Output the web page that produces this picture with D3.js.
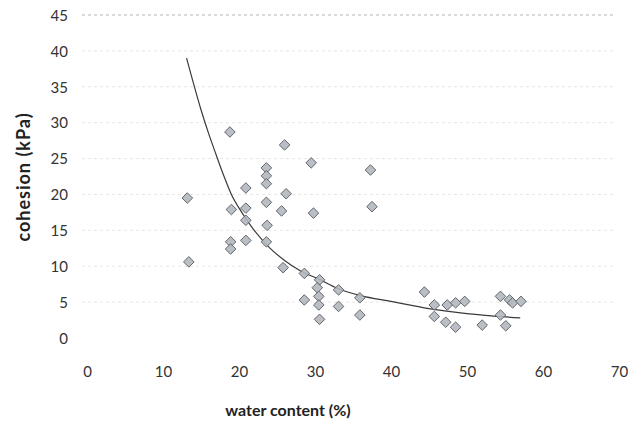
<!DOCTYPE html>
<html>
<head>
<meta charset="utf-8">
<script src="https://cdn.jsdelivr.net/npm/d3@7"></script>
<style>
  body { margin: 0; background: #fff; }
  text { font-family: Lato, "Open Sans", sans-serif; }
</style>
</head>
<body>
<script>
// water content (%) and cohesion (kPa)
let waterContent = [13.2, 13.4, 18.8, 26.0, 29.5, 23.6, 23.6, 23.6, 20.9, 26.2,
  23.6, 25.6, 29.8, 19.0, 20.9, 20.9, 23.7, 18.9, 18.9, 20.9,
  23.6, 37.3, 37.5, 25.8, 28.6, 30.6, 30.3, 30.5, 28.6, 30.5,
  33.1, 33.1, 35.9, 35.9, 30.6, 44.4, 45.7, 45.7, 47.4, 48.5,
  49.7, 47.2, 48.5, 52.0, 54.4, 55.6, 56.0, 57.1, 54.4, 55.1];
let cohesion = [19.5, 10.6, 28.7, 26.9, 24.4, 23.7, 22.6, 21.5, 20.9, 20.1,
  18.9, 17.7, 17.4, 17.9, 18.1, 16.4, 15.7, 13.4, 12.4, 13.6,
  13.4, 23.4, 18.3, 9.8, 9.0, 8.1, 7.0, 5.8, 5.3, 4.6,
  6.7, 4.4, 5.6, 3.2, 2.6, 6.4, 4.6, 3.0, 4.6, 4.9,
  5.1, 2.2, 1.5, 1.8, 5.8, 5.3, 4.9, 5.1, 3.2, 1.7];

// power trend line as drawn in the picture
let trendX = [13.1, 14, 15, 16, 17, 18, 19, 20.3, 22, 24, 26, 28, 30.5, 33, 36, 40, 45, 50, 57];
let trendY = [39, 35.5, 31.8, 28.5, 25.5, 22.6, 20, 17.6, 15, 12.6, 10.8, 9.4, 8.2, 6.9, 5.9, 5.1, 4.1, 3.4, 2.8];

let xTicks = [0, 10, 20, 30, 40, 50, 60, 70];
let yTicks = [0, 5, 10, 15, 20, 25, 30, 35, 40, 45];

let width = 634, height = 430;

let svg = d3.select("body")
.append("svg")
.attr("width", width)
.attr("height", height);

let x = d3.scaleLinear().domain([0, 70]).range([87, 619]);
let y = d3.scaleLinear().domain([0, 45]).range([338, 15]);

// faint gridlines
svg.append("g")
.selectAll("line")
.data(yTicks.filter(d => d > 0))
.enter()
.append("line")
.attr("x1", x(0) - 5)
.attr("x2", x(70) - 4)
.attr("y1", d => y(d))
.attr("y2", d => y(d))
.attr("stroke", d => d === 45 ? "#b4b4b4" : "#e6e6e6")
.attr("stroke-width", 1)
.attr("stroke-dasharray", "3,3");

let yAxis = svg.append("g")
.attr("transform", "translate(68,0)")
.call(d3.axisLeft(y).tickValues(yTicks).tickSize(0).tickPadding(0));
yAxis.select(".domain").remove();
yAxis.selectAll("text")
.attr("font-size", 15)
.attr("fill", "#333")
.attr("dy", "0.35em");

let xAxis = svg.append("g")
.attr("transform", "translate(0,366)")
.call(d3.axisBottom(x).tickValues(xTicks).tickSize(0).tickPadding(0));
xAxis.select(".domain").remove();
xAxis.selectAll("text")
.attr("font-size", 15)
.attr("fill", "#333");

// trend line
svg.append("path")
.datum(trendX.map((d, i) => [d, trendY[i]]))
.attr("fill", "none")
.attr("stroke", "#3a3a3a")
.attr("stroke-width", 1.2)
.attr("d", d3.line().x(d => x(d[0])).y(d => y(d[1])).curve(d3.curveMonotoneX));

// diamond markers
svg.append("g")
.selectAll("path")
.data(waterContent.map((d, i) => [d, cohesion[i]]))
.enter()
.append("path")
.attr("d", d3.symbol().type(d3.symbolSquare).size(56))
.attr("transform", d => "translate(" + x(d[0]) + "," + y(d[1]) + ") rotate(45)")
.attr("fill", "#b3b8c0")
.attr("fill-opacity", 0.9)
.attr("stroke", "#5d6066")
.attr("stroke-width", 0.9);

// axis titles
svg.append("text")
.attr("x", 288)
.attr("y", 416)
.attr("text-anchor", "middle")
.attr("font-size", 16)
.attr("font-weight", "bold")
.attr("fill", "#222")
.text("water content (%)");

svg.append("text")
.attr("transform", "translate(30,177) rotate(-90)")
.attr("text-anchor", "middle")
.attr("font-family", "DejaVu Sans")
.attr("font-size", 18)
.attr("font-weight", "bold")
.attr("letter-spacing", 1)
.attr("fill", "#222")
.text("cohesion (kPa)");
</script>
</body>
</html>
